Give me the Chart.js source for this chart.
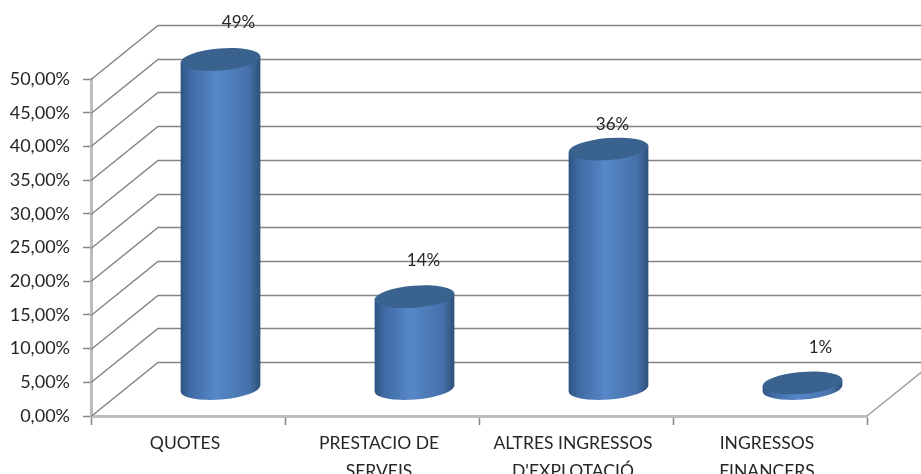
<!DOCTYPE html>
<html>
<head>
<meta charset="utf-8">
<title>Ingressos</title>
<script src="https://cdn.jsdelivr.net/npm/chart.js@4/dist/chart.umd.min.js"></script>
<style>
    html, body { margin: 0; padding: 0; background: #fff; overflow: hidden; }
    #wrap { width: 921px; height: 474px; overflow: hidden; }
    canvas { display: block; filter: blur(0.4px); }
</style>
</head>
<body>
<div id="wrap"><canvas id="chart" width="921" height="510"></canvas></div>
<script>
const categories = [['QUOTES'], ['PRESTACIO DE', 'SERVEIS'], ["ALTRES INGRESSOS", "D'EXPLOTACIÓ"], ['INGRESSOS', 'FINANCERS']];
const shares = [48.9, 13.7, 35.6, 0.9];
const shareLabels = ['49%', '14%', '36%', '1%'];
const yMax = 50;
const yStep = 5;

// fake 3d depth: back wall sits this far from the front axes
const depthX = 67;
const depthY = -54;
const labelNudge = [[18, -37], [9, -36], [4, -25], [18, -35]];
const textFont = { family: 'Lato', size: 17 };

class CylinderElement extends Chart.BarElement {
    static id = 'cylinder';
    static defaults = Chart.BarElement.defaults;

    draw(ctx) {
        const cx = this.x + depthX / 2 - 1;
        const rx = this.width / 2;
        const ry = 11;
        const tilt = -0.08;
        const top = this.y + depthY / 2;
        const bottom = this.base + depthY / 2;
        const dx = rx * Math.cos(tilt);
        const dy = rx * Math.sin(tilt);

        const side = ctx.createLinearGradient(cx - rx, 0, cx + rx, 0);
        side.addColorStop(0, '#2f5482');
        side.addColorStop(0.12, '#3f6aa3');
        side.addColorStop(0.45, '#5687c8');
        side.addColorStop(0.85, '#4672ab');
        side.addColorStop(1, '#2e5079');

        ctx.save();
        ctx.fillStyle = side;
        ctx.beginPath();
        ctx.ellipse(cx, bottom, rx, ry, tilt, 0, Math.PI);
        ctx.lineTo(cx - dx, top - dy);
        ctx.lineTo(cx + dx, top + dy);
        ctx.closePath();
        ctx.fill();

        ctx.fillStyle = this.options.backgroundColor;
        ctx.beginPath();
        ctx.ellipse(cx, top, rx, ry, tilt, 0, Math.PI * 2);
        ctx.fill();
        ctx.restore();
    }
}

class CylinderController extends Chart.BarController {
    static id = 'cylinder';
    static defaults = Object.assign({}, Chart.BarController.defaults, { dataElementType: 'cylinder' });
    static overrides = Chart.BarController.overrides;
}

Chart.register(CylinderElement, CylinderController);

const wallPlugin = {
    id: 'wall',
    beforeDatasetsDraw(chart) {
        const { ctx, chartArea, scales } = chart;
        ctx.save();
        ctx.strokeStyle = '#858585';
        ctx.lineWidth = 1.5;
        scales.y.ticks.forEach(t => {
            const y = Math.round(scales.y.getPixelForValue(t.value)) + 0.5;
            ctx.beginPath();
            ctx.moveTo(chartArea.left, y);
            ctx.lineTo(chartArea.left + depthX, y + depthY);
            ctx.lineTo(chart.width, y + depthY);
            ctx.stroke();
        });
        ctx.strokeStyle = '#a0a0a0';
        ctx.beginPath();
        ctx.moveTo(chartArea.right, chartArea.bottom);
        ctx.lineTo(chartArea.right + depthX, chartArea.bottom + depthY);
        ctx.stroke();
        ctx.restore();
    }
};

const shareLabelPlugin = {
    id: 'shareLabels',
    afterDatasetsDraw(chart) {
        const { ctx } = chart;
        const bars = chart.getDatasetMeta(0).data;
        ctx.save();
        ctx.font = textFont.size + 'px ' + textFont.family;
        ctx.fillStyle = '#262626';
        ctx.textAlign = 'center';
        ctx.textBaseline = 'middle';
        bars.forEach((bar, i) => {
            const x = bar.x + depthX / 2 - 1 + labelNudge[i][0];
            const y = bar.y + depthY / 2 + labelNudge[i][1];
            ctx.fillText(shareLabels[i], x, y);
        });
        ctx.restore();
    }
};

new Chart(document.getElementById('chart'), {
    type: 'cylinder',
    data: {
        labels: categories,
        datasets: [{
            data: shares,
            backgroundColor: '#3a628f',
            barThickness: 80,
            clip: false
        }]
    },
    options: {
        responsive: false,
        animation: false,
        layout: { padding: { top: 79, right: 54, bottom: 0, left: 0 } },
        plugins: {
            legend: { display: false },
            tooltip: { enabled: false }
        },
        scales: {
            x: {
                type: 'category',
                afterFit: scale => { scale.height = 94; },
                border: { color: '#bdbdbd', width: 3 },
                grid: { display: true, offset: true, drawOnChartArea: false, color: '#858585', tickLength: 9, tickWidth: 1.5 },
                ticks: {
                    color: '#262626',
                    font: { family: textFont.family, size: 17.5, lineHeight: 1.6 },
                    maxRotation: 0,
                    autoSkip: false,
                    padding: 4,
                    labelOffset: -3
                }
            },
            y: {
                type: 'linear',
                min: 0,
                max: yMax,
                afterFit: scale => { scale.width = 91; },
                border: { color: '#bdbdbd', width: 3 },
                grid: { drawOnChartArea: false, color: '#858585', tickLength: 8, tickWidth: 1.5 },
                ticks: {
                    stepSize: yStep,
                    color: '#262626',
                    font: { family: textFont.family, size: 18 },
                    padding: 13,
                    callback: v => v.toFixed(2).replace('.', ',') + '%'
                }
            }
        }
    },
    plugins: [wallPlugin, shareLabelPlugin]
});
</script>
</body>
</html>
